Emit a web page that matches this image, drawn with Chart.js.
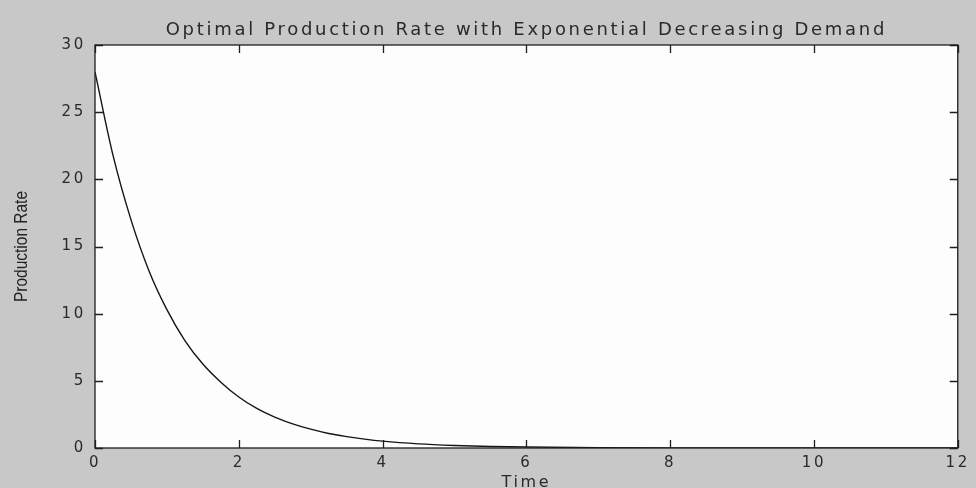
<!DOCTYPE html>
<html>
<head>
<meta charset="utf-8">
<script src="https://cdn.jsdelivr.net/npm/chart.js@4/dist/chart.umd.min.js"></script>
<style>
  html, body { margin: 0; padding: 0; background: #c8c8c8; }
  .wrap { width: 976px; height: 488px; position: relative; }
</style>
</head>
<body>
<div class="wrap"><canvas id="chart"></canvas></div>
<script>
// ===== Optimal Production Rate =====
const times = [0, 0.25, 0.5, 0.75, 1, 1.25, 1.5, 1.75, 2, 2.25, 2.5, 2.75, 3,
  3.25, 3.5, 3.75, 4, 4.5, 5, 5.5, 6, 7, 8, 10, 12];
const rates = [28.0, 21.8, 17.0, 13.2, 10.3, 8.0, 6.25, 4.9, 3.8, 2.95, 2.3, 1.8, 1.4,
  1.08, 0.85, 0.66, 0.51, 0.31, 0.19, 0.11, 0.07, 0.03, 0.01, 0, 0];

const xTicks = [0, 2, 4, 6, 8, 10, 12];
const yTicks = [0, 5, 10, 15, 20, 25, 30];

const titleText = 'Optimal Production Rate with Exponential Decreasing Demand';
const xTitle = 'Time';
const yTitle = 'Production Rate';

const SPACING = '2.7px';
const FAMILY = '"DejaVu Sans", Verdana, sans-serif';

// MATLAB-like frame: gray figure, white axes, box and inward ticks
const matlabFrame = {
  id: 'matlabFrame',
  beforeLayout(chart) {
    chart.ctx.letterSpacing = SPACING;
  },
  beforeDraw(chart) {
    const { ctx, chartArea: a } = chart;
    ctx.save();
    ctx.fillStyle = '#c8c8c8';
    ctx.fillRect(0, 0, chart.width, chart.height);
    ctx.fillStyle = '#fdfdfd';
    ctx.fillRect(a.left, a.top, a.right - a.left, a.bottom - a.top);
    ctx.restore();
    ctx.letterSpacing = SPACING;
  },
  afterDatasetsDraw(chart) {
    const { ctx, chartArea: a, scales: { x, y } } = chart;
    const len = 8;
    ctx.save();
    ctx.strokeStyle = '#1e1e1e';
    ctx.lineWidth = 1.3;
    ctx.strokeRect(a.left, a.top, a.right - a.left, a.bottom - a.top);
    ctx.beginPath();
    xTicks.forEach(v => {
      const px = Math.round(x.getPixelForValue(v)) + 0.5;
      ctx.moveTo(px, a.bottom); ctx.lineTo(px, a.bottom - len);
      ctx.moveTo(px, a.top);    ctx.lineTo(px, a.top + len);
    });
    yTicks.forEach(v => {
      const py = Math.round(y.getPixelForValue(v)) + 0.5;
      ctx.moveTo(a.left, py);  ctx.lineTo(a.left + len, py);
      ctx.moveTo(a.right, py); ctx.lineTo(a.right - len, py);
    });
    ctx.stroke();

    // y axis label, condensed like the original
    ctx.letterSpacing = '0px';
    ctx.fillStyle = '#222';
    ctx.font = '18px "Liberation Sans", Arial, sans-serif';
    ctx.textAlign = 'center';
    ctx.textBaseline = 'middle';
    ctx.translate(22, (a.top + a.bottom) / 2);
    ctx.rotate(-Math.PI / 2);
    ctx.scale(0.86, 1);
    ctx.fillText(yTitle, 0, 0);
    ctx.restore();
  },
};

const tickFont = { family: FAMILY, size: 15 };

new Chart(document.getElementById('chart').getContext('2d'), {
  type: 'line',
  data: {
    datasets: [{
      data: times.map((t, i) => ({ x: t, y: rates[i] })),
      borderColor: '#151515',
      borderWidth: 1.4,
      pointRadius: 0,
      cubicInterpolationMode: 'monotone',
      fill: false,
    }],
  },
  options: {
    responsive: true,
    maintainAspectRatio: false,
    animation: false,
    layout: { padding: { left: 0, right: 12, top: 0, bottom: 0 } },
    scales: {
      x: {
        type: 'linear',
        min: 0,
        max: 12,
        afterBuildTicks: s => { s.ticks = xTicks.map(v => ({ value: v })); },
        afterFit: s => { s.height = 40; },
        grid: { display: false, drawTicks: false },
        border: { display: false },
        ticks: { color: '#2a2a2a', font: tickFont, padding: 6, maxRotation: 0 },
        title: {
          display: true,
          text: xTitle,
          color: '#2a2a2a',
          font: { family: FAMILY, size: 16, lineHeight: '10px' },
          padding: 0,
        },
      },
      y: {
        min: 0,
        max: 30,
        afterBuildTicks: s => { s.ticks = yTicks.map(v => ({ value: v })); },
        afterFit: s => { s.width = 95; },
        grid: { display: false, drawTicks: false },
        border: { display: false },
        ticks: { color: '#2a2a2a', font: tickFont, padding: 9 },
      },
    },
    plugins: {
      legend: { display: false },
      tooltip: { enabled: false },
      title: {
        display: true,
        text: titleText,
        color: '#2a2a2a',
        fullSize: false,
        font: { family: FAMILY, size: 18, weight: 'normal', lineHeight: 1.2 },
        padding: { top: 19.2, bottom: 4.2 },
      },
    },
  },
  plugins: [matlabFrame],
});
</script>
</body>
</html>
